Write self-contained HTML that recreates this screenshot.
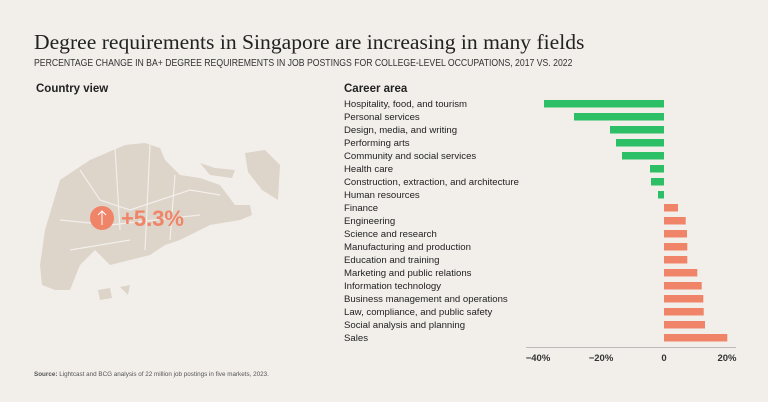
<!DOCTYPE html>
<html><head><style>
body{margin:0;width:768px;height:402px;background:#f2efeb;font-family:"Liberation Sans",sans-serif;overflow:hidden;position:relative;color:#222}
.a{position:absolute;white-space:nowrap}
</style></head><body>
<div class="a" style="left:34px;top:30px;font-family:'Liberation Serif',serif;font-size:21.6px;color:#222">Degree requirements in Singapore are increasing in many fields</div>
<div class="a" style="left:34px;top:58px;font-size:10.4px;color:#333;transform:scaleX(0.835);transform-origin:0 0">PERCENTAGE CHANGE IN BA+ DEGREE REQUIREMENTS IN JOB POSTINGS FOR COLLEGE-LEVEL OCCUPATIONS, 2017 VS. 2022</div>
<div class="a" style="left:36px;top:83px;font-size:11.5px;font-weight:bold">Country view</div>
<div class="a" style="left:344px;top:83px;font-size:11.5px;font-weight:bold">Career area</div>
<svg class="a" style="left:0;top:0" width="768" height="402">
<g fill="#ddd4ca">
<polygon points="40,265 45,230 60,180 75,170 90,160 125,145 145,143 160,148 165,160 180,175 200,178 220,185 235,205 250,205 252,215 240,220 210,225 200,230 180,240 165,245 150,255 130,260 110,265 95,250 80,265 70,290 55,290 42,285"/>
<polygon points="200,163 215,168 235,170 232,178 210,175"/>
<polygon points="245,153 265,150 280,165 278,200 262,190 248,172"/>
<polygon points="98,290 110,288 112,298 100,300"/><polygon points="120,287 130,285 128,295"/>
</g>
<g stroke="#f2efeb" stroke-width="1.2" fill="none">
<path d="M80,170 L100,200 L130,210 L160,200 L190,190 L220,195"/><path d="M115,148 L120,230 M150,145 L145,250 M175,175 L170,240 M60,220 L110,225 L200,215 M70,250 L130,240"/>
</g>
<circle cx="102" cy="218" r="12" fill="#f08468"/>
<path d="M102,225 L102,211 M98,215 L102,211 L106,215" stroke="#fff" stroke-width="1" fill="none"/>
<text x="121" y="226" font-family="Liberation Sans" font-size="22" font-weight="bold" fill="#f08468">+5.3%</text>
<g fill="#2dbf65">
<rect x="544" y="100" width="120" height="7.5"/><rect x="574" y="113" width="90" height="7.5"/><rect x="610" y="126" width="54" height="7.5"/><rect x="616" y="139" width="48" height="7.5"/><rect x="622" y="152" width="42" height="7.5"/><rect x="650" y="165" width="14" height="7.5"/><rect x="651" y="178" width="13" height="7.5"/><rect x="658" y="191" width="6" height="7.5"/>
</g>
<g fill="#f08468">
<rect x="664" y="204" width="14" height="7.5"/><rect x="664" y="217" width="21.7" height="7.5"/><rect x="664" y="230" width="23" height="7.5"/><rect x="664" y="243" width="23.3" height="7.5"/><rect x="664" y="256" width="23.3" height="7.5"/><rect x="664" y="269" width="33.3" height="7.5"/><rect x="664" y="282" width="37.7" height="7.5"/><rect x="664" y="295" width="39.3" height="7.5"/><rect x="664" y="308" width="39.7" height="7.5"/><rect x="664" y="321" width="41" height="7.5"/><rect x="664" y="334" width="63.3" height="7.5"/>
</g>
<line x1="526" y1="347.5" x2="736" y2="347.5" stroke="#bbb" stroke-width="1"/>
<g font-family="Liberation Sans" font-size="9.5" font-weight="bold" fill="#333" text-anchor="middle">
<text x="538" y="361">−40%</text><text x="601" y="361">−20%</text><text x="664" y="361">0</text><text x="727" y="361">20%</text>
</g>
<g font-family="Liberation Sans" font-size="9.6" fill="#222">
<text x="344" y="107">Hospitality, food, and tourism</text><text x="344" y="120">Personal services</text><text x="344" y="133">Design, media, and writing</text><text x="344" y="146">Performing arts</text><text x="344" y="159">Community and social services</text><text x="344" y="172">Health care</text><text x="344" y="185">Construction, extraction, and architecture</text><text x="344" y="198">Human resources</text><text x="344" y="211">Finance</text><text x="344" y="224">Engineering</text><text x="344" y="237">Science and research</text><text x="344" y="250">Manufacturing and production</text><text x="344" y="263">Education and training</text><text x="344" y="276">Marketing and public relations</text><text x="344" y="289">Information technology</text><text x="344" y="302">Business management and operations</text><text x="344" y="315">Law, compliance, and public safety</text><text x="344" y="328">Social analysis and planning</text><text x="344" y="341">Sales</text>
</g>
<text x="34" y="376" font-family="Liberation Sans" font-size="6.3" fill="#555"><tspan font-weight="bold">Source:</tspan> Lightcast and BCG analysis of 22 million job postings in five markets, 2023.</text>
</svg>
</body></html>
